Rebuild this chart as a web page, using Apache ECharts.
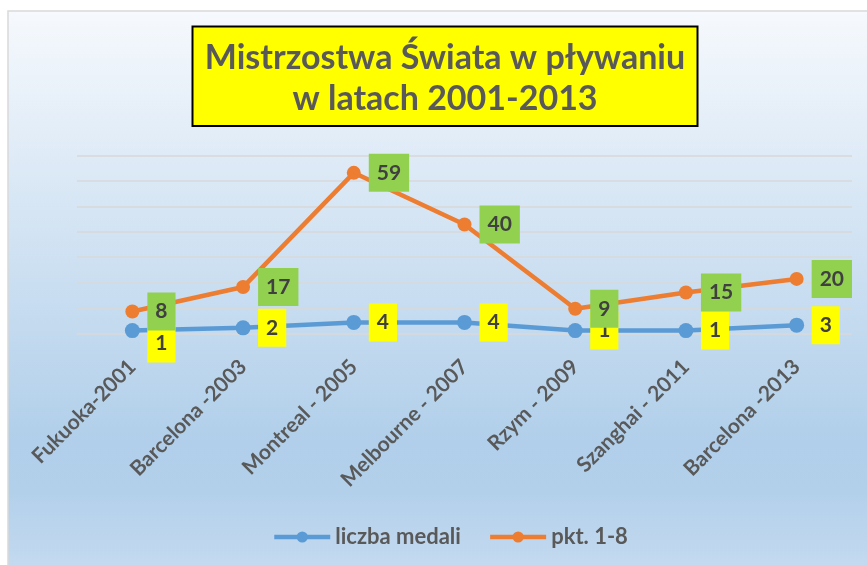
<!DOCTYPE html>
<html>
<head>
<meta charset="utf-8">
<script src="https://cdn.jsdelivr.net/npm/echarts@6/dist/echarts.min.js"></script>
<style>
html,body{margin:0;padding:0;background:#ffffff;}
#chart{width:867px;height:565px;}
</style>
</head>
<body>
<div id="chart"></div>
<script>
const categories = ['Fukuoka-2001', 'Barcelona -2003', 'Montreal - 2005', 'Melbourne - 2007', 'Rzym - 2009', 'Szanghai - 2011', 'Barcelona -2013'];
const medals = [1, 2, 4, 4, 1, 1, 3];
const points = [8, 17, 59, 40, 9, 15, 20];
const seriesNames = ['liczba medali', 'pkt. 1-8'];
const titleText = 'Mistrzostwa Świata w pływaniu\nw latach 2001-2013';

const FONT = 'Lato, "Open Sans", sans-serif';
const chart = echarts.init(document.getElementById('chart'));

const medalData = medals.map(function (v, i) {
  return i === 0 ? { value: v, label: { offset: [0, 13] } } : v;
});

const option = {
  animation: false,
  graphic: [
    {
      type: 'rect', z: -100, silent: true,
      shape: { x: 8, y: 11, width: 880, height: 580 },
      style: {
        fill: new echarts.graphic.LinearGradient(0, 0, 0, 1, [
          { offset: 0, color: '#f6f9fd' },
          { offset: 0.74, color: '#b1cfea' },
          { offset: 0.83, color: '#b3d0eb' },
          { offset: 1, color: '#c9ddf1' }
        ]),
        stroke: '#d9d9d9', lineWidth: 1.5
      }
    },
    {
      type: 'rect', z: -50, silent: true,
      shape: { x: 192.5, y: 26.5, width: 505, height: 99.5 },
      style: { fill: '#ffff00', stroke: '#000000', lineWidth: 2 }
    }
  ],
  title: {
    text: titleText,
    left: 445,
    top: 38,
    padding: 0,
    textAlign: 'center',
    textStyle: { fontFamily: FONT, fontWeight: 'bold', fontSize: 34, lineHeight: 41, color: '#595959' }
  },
  legend: {
    left: 267, top: 521,
    itemWidth: 56, itemHeight: 14, itemGap: 27,
    lineStyle: { width: 4.5 },
    textStyle: { fontFamily: FONT, fontWeight: 'bold', fontSize: 22, color: '#595959' },
    data: seriesNames
  },
  grid: { left: 77, right: 15, top: 155.7, bottom: 231.7, containLabel: false },
  xAxis: {
    type: 'category',
    data: categories,
    boundaryGap: true,
    axisLine: { show: false },
    axisTick: { show: false },
    axisLabel: { interval: 0, rotate: 45, margin: 30, fontFamily: FONT, fontWeight: 'bold', fontSize: 21, color: '#595959' }
  },
  yAxis: [
    {
      type: 'value', min: 0, max: 65.3,
      axisLine: { show: false }, axisTick: { show: false }, axisLabel: { show: false },
      splitLine: { show: false }
    },
    {
      type: 'value', min: 0, max: 7, interval: 1,
      axisLine: { show: false }, axisTick: { show: false }, axisLabel: { show: false },
      splitLine: { show: true, lineStyle: { color: '#d9d9d9', width: 1.5 } }
    }
  ],
  series: [
    {
      name: seriesNames[0], type: 'line', yAxisIndex: 0, z: 2,
      data: medalData,
      symbol: 'circle', symbolSize: 15,
      lineStyle: { color: '#5b9bd5', width: 4.5 },
      itemStyle: { color: '#5b9bd5' },
      label: {
        show: true, position: 'right', distance: 7.5,
        backgroundColor: '#ffff00', color: '#404040',
        fontFamily: FONT, fontWeight: 'bold', fontSize: 21, lineHeight: 24, padding: [7, 8]
      }
    },
    {
      name: seriesNames[1], type: 'line', yAxisIndex: 0, z: 3,
      data: points,
      symbol: 'circle', symbolSize: 14,
      lineStyle: { color: '#ed7d31', width: 4.5 },
      itemStyle: { color: '#ed7d31' },
      label: {
        show: true, position: 'right', distance: 8,
        backgroundColor: '#92d050', color: '#404040',
        fontFamily: FONT, fontWeight: 'bold', fontSize: 21, lineHeight: 24, padding: [7, 8]
      }
    }
  ]
};
chart.setOption(option);
</script>
</body>
</html>
